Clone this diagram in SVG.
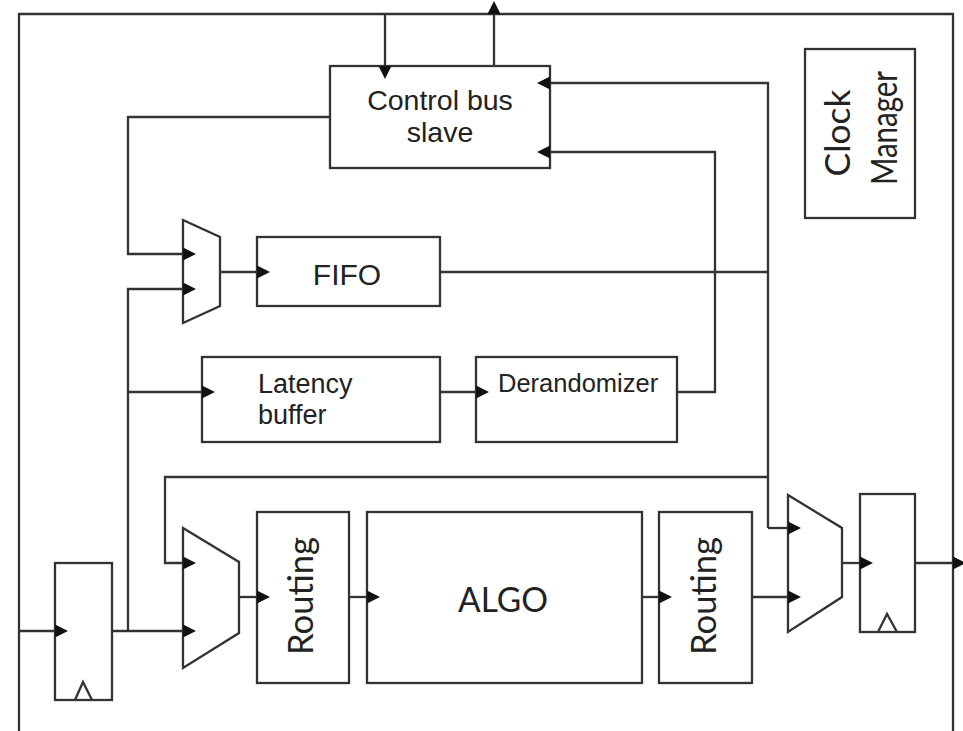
<svg xmlns="http://www.w3.org/2000/svg" width="963" height="731" viewBox="0 0 963 731">
<defs>
<marker id="ah" markerUnits="userSpaceOnUse" markerWidth="14" markerHeight="14" refX="0" refY="6.5" orient="auto" viewBox="0 0 14 13">
<path d="M0,0 L13,6.5 L0,13 z" fill="#111"/>
</marker>
</defs>
<style>
.box{fill:none;stroke:#333;stroke-width:2.3}
.ln{fill:none;stroke:#333;stroke-width:2.3}
.ar{marker-end:url(#ah)}
.t1{font-family:"Liberation Sans",Arial,sans-serif;fill:#222}
.t2{font-family:Lato,"Open Sans",sans-serif;fill:#222}
</style>
<rect width="963" height="731" fill="#fff"/>
<path id="frame" class="ln" d="M19,745 V14 H953 V745"/>

<g id="control_bus_slave">
<rect class="box" x="330" y="66" width="220" height="102"/>
<text class="t1" x="440" y="110" font-size="28.5" text-anchor="middle">Control bus</text>
<text class="t1" x="440" y="142" font-size="28.5" text-anchor="middle">slave</text>
</g>
<g id="clock_manager">
<rect class="box" x="805" y="49" width="110" height="169"/>
<text class="t2" transform="translate(850,133) rotate(-90)" font-size="35" text-anchor="middle" textLength="87" lengthAdjust="spacingAndGlyphs">Clock</text>
<text class="t2" transform="translate(897,128) rotate(-90)" font-size="36" text-anchor="middle" textLength="114" lengthAdjust="spacingAndGlyphs">Manager</text>
</g>
<g id="mux1"><path class="box" d="M183,220 L220,237 L220,306 L183,323 Z"/></g>
<g id="fifo">
<rect class="box" x="257" y="237" width="183" height="69"/>
<text class="t1" x="347" y="285" font-size="30" text-anchor="middle">FIFO</text>
</g>
<g id="latency_buffer">
<rect class="box" x="202" y="357" width="238" height="85"/>
<text class="t1" x="258" y="393" font-size="27">Latency</text>
<text class="t1" x="258" y="424" font-size="27">buffer</text>
</g>
<g id="derandomizer">
<rect class="box" x="476" y="357" width="201" height="85"/>
<text class="t1" x="498" y="392" font-size="25.5">Derandomizer</text>
</g>
<g id="flop1">
<rect class="box" x="55" y="563" width="57" height="137"/>
<path class="box" d="M75,700 L83,682 L92,700"/>
</g>
<g id="mux3"><path class="box" d="M183,528 L239,562 L239,633 L183,668 Z"/></g>
<g id="routing1">
<rect class="box" x="257" y="512" width="92" height="171"/>
<text class="t2" transform="translate(313,596) rotate(-90)" font-size="34" text-anchor="middle" textLength="118" lengthAdjust="spacingAndGlyphs">Routing</text>
</g>
<g id="algo">
<rect class="box" x="367" y="512" width="275" height="171"/>
<text class="t2" x="503" y="612" font-size="35" text-anchor="middle" textLength="90" lengthAdjust="spacingAndGlyphs">ALGO</text>
</g>
<g id="routing2">
<rect class="box" x="659" y="512" width="93" height="171"/>
<text class="t2" transform="translate(716,596) rotate(-90)" font-size="34" text-anchor="middle" textLength="118" lengthAdjust="spacingAndGlyphs">Routing</text>
</g>
<g id="mux2"><path class="box" d="M788,495 L842,528 L842,597 L788,632 Z"/></g>
<g id="flop2">
<rect class="box" x="860" y="494" width="55" height="138"/>
<path class="box" d="M878,632 L887,614 L897,632"/>
</g>

<g id="connectors">
<path class="ln ar" d="M385,14 V66"/>
<path class="ln ar" d="M494,66 V14"/>
<path class="ln ar" d="M330,117 H128 V254 H183"/>
<path class="ln ar" d="M128,631 V289 H183"/>
<path class="ln ar" d="M128,392 H202"/>
<path class="ln ar" d="M220,272 H257"/>
<path class="ln" d="M440,272 H768"/>
<path class="ln ar" d="M768,528 V83 H550"/>
<path class="ln ar" d="M768,528 H788"/>
<path class="ln ar" d="M440,392 H476"/>
<path class="ln ar" d="M677,392 H715 V152 H550"/>
<path class="ln ar" d="M768,477 H165 V563 H183"/>
<path class="ln ar" d="M19,631 H55"/>
<path class="ln ar" d="M112,631 H183"/>
<path class="ln ar" d="M239,597 H257"/>
<path class="ln ar" d="M349,597 H367"/>
<path class="ln ar" d="M642,597 H659"/>
<path class="ln ar" d="M752,597 H788"/>
<path class="ln ar" d="M842,563 H860"/>
<path class="ln ar" d="M915,563 H953"/>
</g>
</svg>
